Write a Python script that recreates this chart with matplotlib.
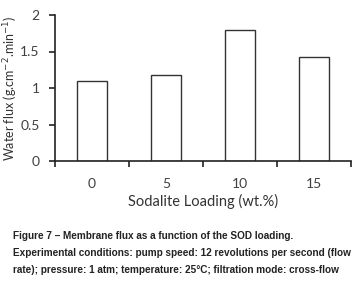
import matplotlib
matplotlib.use("Agg")
import matplotlib.pyplot as plt

categories = ["0", "5", "10", "15"]
flux = [1.09, 1.18, 1.80, 1.43]
yticks = [0, 0.5, 1, 1.5, 2]
ytick_labels = ["0", "0.5", "1", "1.5", "2"]

fig = plt.figure(figsize=(3.62, 2.83), dpi=100)
W, H = 362, 283
ax = fig.add_axes([55 / W, 1 - 161 / H, (351 - 55) / W, (161 - 15) / H])

x = range(len(categories))
ax.bar(x, flux, width=0.4, color="white", edgecolor="#333333", linewidth=1.0)
ax.set_xlim(-0.5, len(categories) - 0.5)
ax.set_ylim(0, 2)
ax.set_yticks(yticks)
ax.set_yticklabels(ytick_labels)
ax.set_xticks(list(x))
ax.set_xticklabels(categories)
ax.set_xticks([i + 0.5 for i in range(-1, len(categories))], minor=True)
ax.tick_params(axis="x", which="major", length=0, pad=12, labelsize=10, colors="#404040")
ax.tick_params(axis="x", which="minor", length=4, width=1.2, direction="out", color="#222222")
ax.tick_params(axis="y", length=4, width=1.2, direction="out", pad=7, labelsize=10, labelcolor="#404040", color="#222222")
for s in ["top", "right"]:
    ax.spines[s].set_visible(False)
for s in ["left", "bottom"]:
    ax.spines[s].set_linewidth(1.2)
    ax.spines[s].set_color("#222222")
for lab in ax.get_xticklabels() + ax.get_yticklabels():
    lab.set_family("Lato")

ax.set_ylabel("Water flux (g.cm$^{-2}$.min$^{-1}$)", family="Lato", fontsize=9, color="#333333", va="center")
ax.yaxis.set_label_coords(-44 / 296, 0.5)
ax.set_xlabel("Sodalite Loading (wt.%)", family="Lato", fontsize=10.5, color="#333333", labelpad=3)

cap_font = ["Liberation Sans", "DejaVu Sans"]
cap_kw = dict(family=cap_font, fontsize=7.2, fontweight="bold", color="#222222", va="center", ha="left")
fig.text(13 / W, 1 - 236 / H, "Figure 7 \u2013 Membrane flux as a function of the SOD loading.", **cap_kw)
fig.text(13 / W, 1 - 253 / H, "Experimental conditions: pump speed: 12 revolutions per second (flow", **cap_kw)
fig.text(13 / W, 1 - 270 / H, "rate); pressure: 1 atm; temperature: 25\u00b0C; filtration mode: cross-flow", **cap_kw)

fig.savefig("out.png", dpi=100)
